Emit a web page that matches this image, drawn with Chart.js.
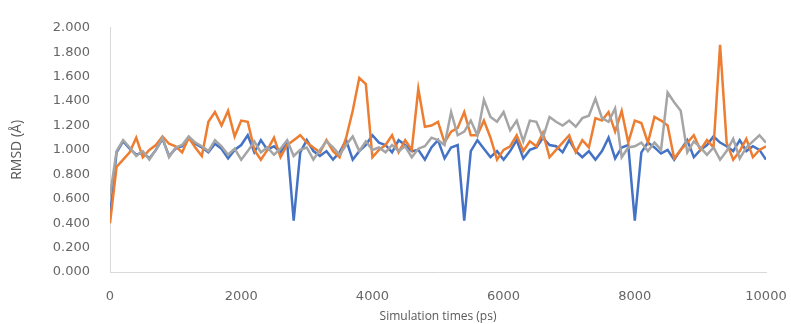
<!DOCTYPE html>
<html>
<head>
<meta charset="utf-8">
<script src="https://cdn.jsdelivr.net/npm/chart.js@4"></script>
<style>
    html, body { margin: 0; padding: 0; background: #fff; }
    #wrap { width: 791px; height: 324px; position: relative; }
</style>
</head>
<body>
<div id="wrap"><canvas id="myChart"></canvas></div>
<script>
// sampling times, 100 ps apart
const times = Array.from({ length: 101 }, (_, i) => i * 100);

const blueRmsd = [
    0.45, 0.98, 1.07, 1.01, 0.96, 0.98, 0.93, 1.00, 1.09, 0.95,
    1.01, 1.03, 1.10, 1.05, 1.02, 0.98, 1.05, 1.01, 0.93, 1.00,
    1.04, 1.12, 0.98, 1.08, 1.00, 1.03, 0.98, 1.06, 0.42, 0.98,
    1.08, 0.99, 0.95, 0.99, 0.92, 0.98, 1.08, 0.92, 0.99, 1.04,
    1.12, 1.06, 1.04, 0.98, 1.08, 1.04, 0.99, 1.00, 0.92, 1.02,
    1.08, 0.93, 1.02, 1.04, 0.42, 0.99, 1.08, 1.01, 0.94, 0.99,
    0.92, 0.99, 1.08, 0.93, 1.00, 1.02, 1.10, 1.04, 1.03, 0.98,
    1.08, 0.99, 0.94, 0.99, 0.92, 0.99, 1.10, 0.93, 1.02, 1.04,
    0.42, 0.98, 1.06, 1.02, 0.97, 1.00, 0.92, 1.00, 1.08, 0.94,
    1.00, 1.04, 1.11, 1.06, 1.03, 0.99, 1.08, 0.99, 1.03, 1.00,
    0.92
];

const orangeRmsd = [
    0.40, 0.86, 0.92, 0.98, 1.10, 0.94, 1.00, 1.04, 1.11, 1.05,
    1.03, 0.98, 1.10, 1.02, 0.95, 1.23, 1.31, 1.20, 1.32, 1.11,
    1.24, 1.23, 1.00, 0.92, 1.00, 1.10, 0.94, 1.04, 1.08, 1.12,
    1.06, 1.02, 0.98, 1.08, 0.99, 0.94, 1.10, 1.32, 1.59, 1.54,
    0.94, 1.00, 1.04, 1.12, 0.98, 1.08, 1.00, 1.50, 1.19, 1.20,
    1.23, 1.06, 1.15, 1.18, 1.31, 1.12, 1.12, 1.24, 1.10, 0.92,
    1.00, 1.03, 1.12, 0.99, 1.07, 1.03, 1.14, 0.94, 1.00, 1.06,
    1.12, 0.98, 1.08, 1.02, 1.26, 1.24, 1.31, 1.15, 1.32, 1.06,
    1.24, 1.22, 1.06, 1.27, 1.24, 1.20, 0.93, 1.00, 1.06, 1.12,
    1.00, 1.08, 1.02, 1.86, 1.06, 0.92, 0.99, 1.09, 0.94, 1.00,
    1.03
];

const grayRmsd = [
    0.62, 0.99, 1.08, 1.02, 0.95, 0.99, 0.92, 1.00, 1.10, 0.94,
    1.02, 1.04, 1.11, 1.06, 1.03, 0.99, 1.08, 1.03, 0.96, 1.01,
    0.92, 0.99, 1.07, 0.98, 1.02, 0.96, 1.01, 1.08, 0.95, 1.00,
    1.02, 0.92, 1.00, 1.07, 1.02, 0.96, 1.04, 1.11, 0.99, 1.07,
    1.00, 1.02, 0.98, 1.04, 0.99, 1.03, 0.94, 1.01, 1.03, 1.10,
    1.08, 1.04, 1.31, 1.12, 1.15, 1.24, 1.12, 1.41, 1.27, 1.23,
    1.31, 1.16, 1.24, 1.07, 1.24, 1.23, 1.10, 1.27, 1.23, 1.20,
    1.24, 1.19, 1.26, 1.28, 1.42, 1.26, 1.23, 1.34, 0.94, 1.02,
    1.03, 1.06, 0.99, 1.06, 1.00, 1.47, 1.39, 1.32, 0.98, 1.07,
    1.02, 0.96, 1.02, 0.92, 0.99, 1.09, 0.93, 1.02, 1.07, 1.12,
    1.06
];

const yTicks = { min: 0, max: 2, step: 0.2 };
const xTicks = { min: 0, max: 10000, step: 2000 };

const toPoints = (vals) => vals.map((v, i) => ({ x: times[i], y: v }));

const lineStyle = (color) => ({
    borderColor: color,
    backgroundColor: color,
    borderWidth: 2.5,
    pointRadius: 0,
    tension: 0,
    fill: false,
});

document.addEventListener('DOMContentLoaded', () => {
    const ctx = document.getElementById('myChart').getContext('2d');

    new Chart(ctx, {
        type: 'line',
        data: {
            // first dataset is painted on top
            datasets: [
                { label: 'Series 3', data: toPoints(grayRmsd), ...lineStyle('#a5a5a5') },
                { label: 'Series 2', data: toPoints(orangeRmsd), ...lineStyle('#ed7d31') },
                { label: 'Series 1', data: toPoints(blueRmsd), ...lineStyle('#4472c4') },
            ]
        },
        options: {
            responsive: true,
            maintainAspectRatio: false,
            animation: false,
            layout: { padding: { top: 19, right: 25, left: 0, bottom: 0 } },
            plugins: {
                legend: { display: false },
                tooltip: { enabled: false },
            },
            scales: {
                x: {
                    type: 'linear',
                    min: xTicks.min,
                    max: xTicks.max,
                    grid: { display: false, drawTicks: false },
                    border: { display: true, color: '#d9d9d9', width: 1 },
                    ticks: {
                        stepSize: xTicks.step,
                        padding: 17,
                        color: '#666666',
                        font: { family: 'DejaVu Sans', size: 13 },
                        callback: (v) => String(v),
                    },
                    title: {
                        display: true,
                        text: 'Simulation times (ps)',
                        color: '#595959',
                        font: { family: 'Open Sans', size: 12 },
                        padding: { top: 0, bottom: 0 },
                    },
                    afterFit: (scale) => {
                        scale.height = 52;
                        scale.paddingLeft = 0;
                        scale.paddingRight = 0;
                    },
                },
                y: {
                    min: yTicks.min,
                    max: yTicks.max,
                    grid: { display: false, drawTicks: false },
                    border: { display: true, color: '#d9d9d9', width: 1 },
                    ticks: {
                        stepSize: yTicks.step,
                        padding: 20,
                        color: '#666666',
                        font: { family: 'DejaVu Sans', size: 13 },
                        callback: (v) => Number(v).toFixed(3),
                    },
                    title: {
                        display: true,
                        text: 'RMSD (Å)',
                        color: '#595959',
                        font: { family: 'Open Sans', size: 14 },
                        padding: { top: 9, bottom: 0 },
                    },
                    afterFit: (scale) => { scale.width = 110; },
                }
            }
        }
    });
});
</script>
</body>
</html>
